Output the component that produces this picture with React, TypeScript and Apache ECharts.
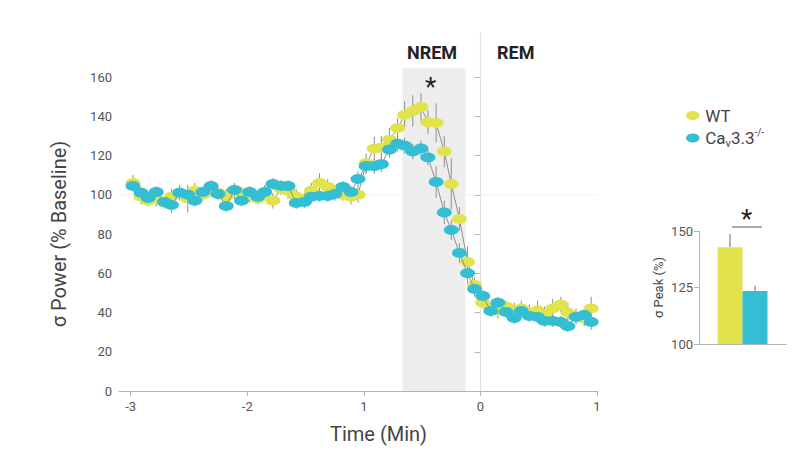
import React, { useEffect, useRef } from "react";
import * as echarts from "echarts";

// ---- Data ----
const times = [
  -2.98, -2.91, -2.85, -2.78, -2.71, -2.65, -2.58, -2.51, -2.45, -2.38,
  -2.31, -2.25, -2.18, -2.11, -2.05, -1.98, -1.91, -1.85, -1.78, -1.71,
  -1.65, -1.58, -1.51, -1.45, -1.38, -1.31, -1.25, -1.18, -1.11, -1.05,
  -0.98, -0.91, -0.85, -0.78, -0.71, -0.65, -0.58, -0.51, -0.45, -0.38,
  -0.31, -0.25, -0.18, -0.11, -0.05, 0.02, 0.09, 0.15, 0.22, 0.29,
  0.35, 0.42, 0.49, 0.55, 0.62, 0.69, 0.75, 0.82, 0.89, 0.95,
];

const wtValues = [
  106, 99, 97, 98, 96, 99, 101, 98, 102, 100,
  103, 101, 99, 102, 101, 100, 98, 101, 97, 103,
  102, 99, 98, 102, 106, 104, 101, 100, 99, 100,
  116, 123.5, 124, 128, 134, 140.6, 142.7, 144.7, 137, 136.6,
  122, 105.5, 87.7, 65.7, 54, 45, 42, 41, 43, 41,
  42, 40, 41, 39, 42, 44, 40, 38, 37, 42,
];
const wtErrors = [
  4, 4, 3, 4, 3, 4, 4, 7, 4, 3,
  4, 3, 4, 4, 3, 4, 3, 4, 4, 3,
  4, 4, 3, 4, 5, 4, 4, 3, 4, 4,
  5, 6, 6, 6, 5, 7, 8, 7, 6, 10,
  8, 13, 6, 8, 4, 3, 3, 4, 3, 4,
  4, 4, 5, 4, 5, 4, 5, 4, 4, 6,
];

const koValues = [
  104.5, 101, 98.3, 101.4, 96.3, 94.8, 101, 100, 97, 101.4,
  104.5, 100.4, 94.3, 102.4, 97, 101.4, 99, 101.4, 105.5, 104.5,
  104.5, 95.8, 96.3, 99, 99.4, 99.4, 100.4, 104, 101.4, 108,
  114.6, 114.6, 115.6, 123, 126, 125, 122, 123.6, 119, 106.5,
  91, 82, 70.3, 60, 52, 48.4, 40.8, 45, 40.3, 37.2,
  40.8, 38.2, 37.7, 35.7, 35.7, 35.2, 33, 37.7, 38.7, 35.2,
];
const koErrors = [
  3, 3, 3, 3, 3, 4, 3, 3, 3, 3,
  3, 3, 3, 3, 3, 3, 3, 3, 3, 3,
  3, 3, 3, 3, 3, 3, 3, 3, 3, 4,
  4, 4, 4, 4, 4, 4, 4, 4, 4, 8,
  6, 5, 5, 5, 4, 3, 3, 3, 3, 3,
  3, 3, 3, 3, 3, 3, 3, 3, 3, 4,
];

const xTicks = [-3, -2, -1, 0, 1];
const xTickLabels = ["-3", "-2", "1", "0", "1"];
const nremRange = [-0.668, -0.129];
const seriesNames = ["WT", "Cav3.3-/-"];
const peakCategories = ["σ Peak"];
const peakValues = [142.8, 123.4];
const peakErrors = [5.9, 2.4];

const YELLOW = "#e2e34c";
const BLUE = "#34bed3";
const GRAY_LINE = "#8e8e8e";
const AXIS = "#b4b4b4";
const FONT = "Roboto, 'Noto Sans', sans-serif";

const ELLIPSE = "path://M0,5A7.5,5 0 1,0 15,5A7.5,5 0 1,0 0,5Z";

export default function App() {
  const ref = useRef<HTMLDivElement>(null);

  useEffect(() => {
    if (!ref.current) return;
    const chart = echarts.init(ref.current, undefined, { renderer: "svg" });

    const errRender = (params: any, api: any) => {
      const t = api.value(0);
      const v = api.value(1);
      const e = api.value(2);
      const a = api.coord([t, v - e]);
      const b = api.coord([t, v + e]);
      return {
        type: "line",
        shape: { x1: a[0], y1: a[1], x2: b[0], y2: b[1] },
        style: { stroke: GRAY_LINE, lineWidth: 1 },
      };
    };

    const BAR_W = 25;

    const option: any = {
      animation: false,
      backgroundColor: "#ffffff",
      textStyle: { fontFamily: FONT },
      grid: [
        { left: 119, top: 77, width: 478, height: 314 },
        { left: 699, top: 231, width: 87, height: 113 },
      ],
      xAxis: [
        {
          type: "value",
          gridIndex: 0,
          min: -3.1,
          max: 1,
          axisLine: { show: true, lineStyle: { color: AXIS, width: 1 } },
          axisTick: { show: true, customValues: xTicks, length: 5, lineStyle: { color: AXIS } },
          axisLabel: {
            customValues: xTicks,
            formatter: (v: number) => xTickLabels[xTicks.indexOf(v)] ?? String(v),
            fontSize: 13,
            color: "#555",
            margin: 9,
            fontFamily: FONT,
          },
          splitLine: { show: false },
        },
        {
          type: "category",
          gridIndex: 1,
          data: peakCategories,
          axisLine: { show: true, lineStyle: { color: AXIS, width: 1 } },
          axisTick: { show: false },
          axisLabel: { show: false },
          splitLine: { show: false },
        },
      ],
      yAxis: [
        {
          type: "value",
          gridIndex: 0,
          min: 0,
          max: 160,
          interval: 20,
          name: "σ Power (% Baseline)",
          nameLocation: "middle",
          nameGap: 50,
          nameTextStyle: { fontSize: 20, color: "#444", fontFamily: FONT },
          axisLine: { show: true, lineStyle: { color: AXIS, width: 1 } },
          axisTick: { show: true, length: 6, lineStyle: { color: AXIS } },
          axisLabel: { fontSize: 13, color: "#555", margin: 7, fontFamily: FONT },
          splitLine: { show: false },
        },
        {
          type: "value",
          gridIndex: 1,
          min: 100,
          max: 150,
          interval: 25,
          name: "σ Peak (%)",
          nameLocation: "middle",
          nameGap: 34,
          nameTextStyle: { fontSize: 13, color: "#444", fontFamily: FONT },
          axisLine: { show: true, lineStyle: { color: AXIS, width: 1 } },
          axisTick: { show: true, length: 5, lineStyle: { color: AXIS } },
          axisLabel: { fontSize: 13, color: "#555", margin: 6, fontFamily: FONT },
          splitLine: { show: false },
        },
      ],
      legend: {
        orient: "vertical",
        left: 681,
        top: 102,
        itemWidth: 15,
        itemHeight: 9,
        itemGap: 3,
        data: [
          { name: seriesNames[0], icon: ELLIPSE },
          { name: seriesNames[1], icon: ELLIPSE },
        ],
        formatter: (name: string) =>
          name === seriesNames[1]
            ? "{n|Ca}{s|v}{n|3.3}{p|-/-}"
            : "{n|" + name + "}",
        textStyle: {
          color: "#444",
          fontSize: 17,
          fontFamily: FONT,
          rich: {
            n: { fontSize: 17, color: "#444", lineHeight: 22, fontFamily: FONT },
            s: { fontSize: 11, color: "#444", lineHeight: 10, verticalAlign: "bottom", fontFamily: FONT },
            p: { fontSize: 10, color: "#444", lineHeight: 14, verticalAlign: "top", fontFamily: FONT },
          },
        },
      },
      series: [
        {
          type: "custom",
          name: "band",
          xAxisIndex: 0,
          yAxisIndex: 0,
          clip: false,
          silent: true,
          z: 1,
          data: [[nremRange[0], nremRange[1], 164.5]],
          renderItem: (params: any, api: any) => {
            const p1 = api.coord([api.value(0), api.value(2)]);
            const p2 = api.coord([api.value(1), 0]);
            return {
              type: "rect",
              shape: { x: p1[0], y: p1[1], width: p2[0] - p1[0], height: p2[1] - p1[1] },
              style: { fill: "#ecedec" },
            };
          },
        },
        {
          type: "custom",
          name: "refs",
          xAxisIndex: 0,
          yAxisIndex: 0,
          clip: false,
          silent: true,
          z: 1,
          data: [[0, 183, -3.1, 1, 100]],
          renderItem: (params: any, api: any) => {
            const top = api.coord([api.value(0), api.value(1)]);
            const bot = api.coord([api.value(0), 0]);
            const l = api.coord([api.value(2), api.value(4)]);
            const r = api.coord([api.value(3), api.value(4)]);
            return {
              type: "group",
              children: [
                {
                  type: "line",
                  shape: { x1: top[0], y1: top[1], x2: bot[0], y2: bot[1] },
                  style: { stroke: "#e3e3e3", lineWidth: 1 },
                },
                {
                  type: "line",
                  shape: { x1: l[0], y1: l[1], x2: r[0], y2: r[1] },
                  style: { stroke: "#f0f0f0", lineWidth: 1 },
                },
              ],
            };
          },
        },
        {
          type: "custom",
          name: "wtErr",
          xAxisIndex: 0,
          yAxisIndex: 0,
          clip: false,
          silent: true,
          z: 2,
          data: times.map((t, i) => [t, wtValues[i], wtErrors[i]]),
          renderItem: errRender,
        },
        {
          type: "custom",
          name: "koErr",
          xAxisIndex: 0,
          yAxisIndex: 0,
          clip: false,
          silent: true,
          z: 2,
          data: times.map((t, i) => [t, koValues[i], koErrors[i]]),
          renderItem: errRender,
        },
        {
          type: "line",
          name: seriesNames[0],
          xAxisIndex: 0,
          yAxisIndex: 0,
          z: 3,
          data: times.map((t, i) => [t, wtValues[i]]),
          symbol: ELLIPSE,
          symbolSize: [15, 10],
          showAllSymbol: true,
          itemStyle: { color: YELLOW },
          lineStyle: { color: GRAY_LINE, width: 1 },
        },
        {
          type: "line",
          name: seriesNames[1],
          xAxisIndex: 0,
          yAxisIndex: 0,
          z: 4,
          data: times.map((t, i) => [t, koValues[i]]),
          symbol: ELLIPSE,
          symbolSize: [15, 10],
          showAllSymbol: true,
          itemStyle: { color: BLUE },
          lineStyle: { color: GRAY_LINE, width: 1 },
        },
        {
          type: "bar",
          name: seriesNames[0],
          xAxisIndex: 1,
          yAxisIndex: 1,
          data: [peakValues[0]],
          barWidth: BAR_W,
          barGap: "0%",
          itemStyle: { color: YELLOW },
          z: 3,
        },
        {
          type: "bar",
          name: seriesNames[1],
          xAxisIndex: 1,
          yAxisIndex: 1,
          data: [peakValues[1]],
          barWidth: BAR_W,
          barGap: "0%",
          itemStyle: { color: BLUE },
          z: 3,
        },
        {
          type: "custom",
          name: "peakErr",
          xAxisIndex: 1,
          yAxisIndex: 1,
          clip: false,
          silent: true,
          z: 2,
          data: [
            [0, peakValues[0], peakErrors[0], -1],
            [0, peakValues[1], peakErrors[1], 1],
          ],
          renderItem: (params: any, api: any) => {
            const a = api.coord([api.value(0), api.value(1)]);
            const b = api.coord([api.value(0), api.value(1) + api.value(2)]);
            const dx = (api.value(3) * BAR_W) / 2;
            return {
              type: "line",
              shape: { x1: a[0] + dx, y1: a[1], x2: b[0] + dx, y2: b[1] },
              style: { stroke: "#9a9a9a", lineWidth: 1.5 },
            };
          },
        },
      ],
      graphic: [
        {
          type: "text",
          left: 407,
          top: 43,
          z: 10,
          style: { text: "NREM", fontSize: 18, fontWeight: "bold", fill: "#222", fontFamily: FONT },
        },
        {
          type: "text",
          left: 497,
          top: 43,
          z: 10,
          style: { text: "REM", fontSize: 18, fontWeight: "bold", fill: "#222", fontFamily: FONT },
        },
        {
          type: "text",
          left: 425,
          top: 74,
          z: 10,
          style: { text: "*", fontSize: 26, fill: "#222", fontFamily: FONT },
        },
        {
          type: "text",
          left: 330,
          top: 424,
          z: 10,
          style: { text: "Time (Min)", fontSize: 20, fill: "#444", fontFamily: FONT },
        },
        {
          type: "line",
          z: 10,
          shape: { x1: 732, y1: 227, x2: 762, y2: 227 },
          style: { stroke: "#555", lineWidth: 1 },
        },
        {
          type: "text",
          left: 741,
          top: 206,
          z: 10,
          style: { text: "*", fontSize: 26, fill: "#222", fontFamily: FONT },
        },
      ],
    };

    chart.setOption(option);
    return () => chart.dispose();
  }, []);

  return (
    <div
      ref={ref}
      style={{ position: "absolute", left: 0, top: 0, width: 805, height: 466, background: "#fff" }}
    />
  );
}
